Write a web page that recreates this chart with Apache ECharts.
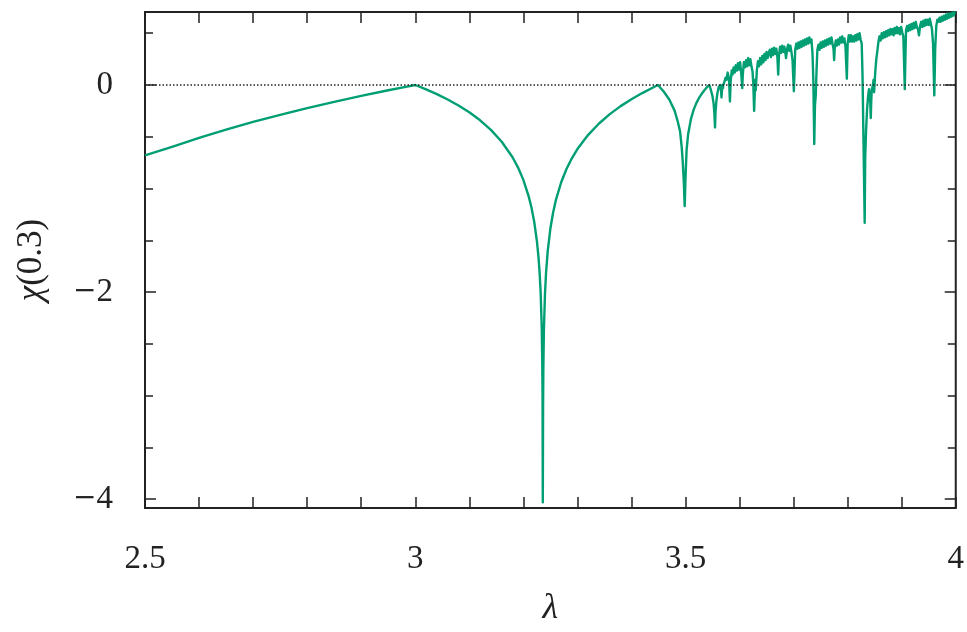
<!DOCTYPE html>
<html>
<head>
<meta charset="utf-8">
<script src="https://cdn.jsdelivr.net/npm/echarts@6/dist/echarts.min.js"></script>
<style>
html,body{margin:0;padding:0;background:#fff;}
#chart{width:967px;height:632px;}
</style>
</head>
<body>
<div id="chart"></div>
<script>
// Values.
// Periodic (non-chaotic) part: λ from 2.5 to the onset of chaos
var lambdaPeriodic = [
  2.50,2.55,2.60,2.65,2.70,2.75,2.80,2.85,2.90,2.95,2.98,3.00,
  3.01,3.02,3.04,3.06,3.08,3.10,3.12,3.14,3.16,3.18,3.19,3.20,3.21,3.215,3.22,3.225,3.228,3.23,3.232,3.234,3.235,3.2355,3.236,3.2365,3.237,3.238,3.24,3.242,3.245,3.25,3.255,3.26,3.27,3.28,3.29,3.30,3.32,3.34,3.36,3.38,3.40,3.42,3.44,3.449,
  3.452,3.46,3.47,3.48,3.486,3.49,3.493,3.495,3.497,3.4985,3.500,3.502,3.505,3.51,3.515,3.52,3.525,3.53,3.535,3.54,3.544,
  3.546,3.548,3.550,3.552,3.5535,3.5546,3.5555,3.557,3.559,3.5615,3.5635,3.5644,3.5658,3.5666,3.5675,3.5688,3.5694,3.5699
];
var chiPeriodic = [
  -0.68,-0.598,-0.511,-0.431,-0.357,-0.288,-0.223,-0.163,-0.105,-0.051,-0.02,0,
  -0.021,-0.042,-0.088,-0.140,-0.198,-0.264,-0.341,-0.433,-0.548,-0.698,-0.795,-0.916,-1.078,-1.183,-1.318,-1.504,-1.662,-1.804,-2.004,-2.342,-2.672,-2.99,-4.03,-3.12,-2.74,-2.376,-2.02,-1.814,-1.609,-1.386,-1.233,-1.115,-0.939,-0.809,-0.705,-0.619,-0.481,-0.372,-0.281,-0.204,-0.137,-0.078,-0.024,0,
  -0.015,-0.065,-0.14,-0.25,-0.36,-0.45,-0.60,-0.75,-0.95,-1.17,-0.90,-0.63,-0.47,-0.33,-0.24,-0.175,-0.125,-0.085,-0.05,-0.02,0,
  -0.03,-0.07,-0.11,-0.18,-0.28,-0.41,-0.27,-0.16,-0.08,-0.02,-0.005,0,-0.06,-0.12,-0.05,0,-0.03,0
];
// Chaotic part with its periodic windows
var lambdaChaos = [
  3.572,3.574,3.576,3.578,3.5805,3.5822,3.5835,3.5855,3.587,3.589,
  3.591,3.593,3.595,3.597,3.599,3.601,3.603,3.604,3.605,3.606,
  3.608,3.610,3.612,3.614,3.616,3.618,3.620,3.622,3.624,3.6255,
  3.627,3.628,3.629,3.630,3.632,3.634,3.636,3.638,3.640,3.642,
  3.644,3.646,3.648,3.650,3.652,3.654,3.656,3.658,3.660,3.662,
  3.664,3.666,3.668,3.670,3.6715,3.673,3.675,3.677,3.679,3.681,
  3.683,3.685,3.686,3.688,3.690,3.692,3.694,3.696,3.698,3.7005,
  3.7015,3.703,3.705,3.707,3.709,3.711,3.713,3.715,3.717,3.719,
  3.721,3.723,3.725,3.727,3.729,3.731,3.733,3.735,3.7365,3.7382,
  3.7395,3.741,3.7425,3.744,3.746,3.748,3.750,3.752,3.754,3.756,
  3.758,3.760,3.762,3.764,3.766,3.768,3.770,3.772,3.774,3.775,
  3.776,3.778,3.780,3.782,3.784,3.786,3.788,3.790,3.792,3.794,
  3.796,3.7985,3.800,3.802,3.804,3.806,3.808,3.810,3.812,3.814,
  3.816,3.818,3.820,3.822,3.824,3.826,3.8275,3.8295,3.8315,3.8325,
  3.834,3.836,3.838,3.8395,3.8415,3.8428,3.8437,3.8447,3.846,3.848,
  3.849,3.851,3.853,3.855,3.857,3.859,3.861,3.863,3.865,3.867,
  3.869,3.871,3.873,3.875,3.877,3.879,3.881,3.883,3.885,3.887,
  3.889,3.891,3.893,3.895,3.897,3.899,3.901,3.903,3.9045,3.9057,
  3.9068,3.908,3.910,3.912,3.914,3.916,3.918,3.920,3.922,3.924,
  3.926,3.928,3.930,3.932,3.934,3.936,3.938,3.940,3.942,3.944,
  3.946,3.948,3.950,3.952,3.954,3.956,3.958,3.9603,3.962,3.964,
  3.966,3.968,3.970,3.972,3.974,3.976,3.978,3.980,3.982,3.984,
  3.986,3.988,3.990,3.992,3.994,3.996,3.998,4.000
];
var chiChaos = [
  0.03,0.07,0.05,0.12,0.06,-0.16,0.03,0.14,0.10,0.17,
  0.12,0.19,0.14,0.21,0.15,0.22,0.12,0.05,-0.03,0.10,
  0.22,0.17,0.24,0.18,0.26,0.19,0.25,0.18,0.13,0.0,
  -0.25,-0.10,0.05,-0.05,0.14,0.23,0.18,0.26,0.20,0.28,
  0.22,0.30,0.24,0.32,0.26,0.31,0.34,0.27,0.35,0.29,
  0.36,0.30,0.35,0.27,0.10,0.29,0.37,0.31,0.38,0.32,
  0.37,0.30,0.26,0.35,0.39,0.33,0.38,0.32,0.24,-0.06,
  0.10,0.34,0.40,0.35,0.41,0.36,0.42,0.37,0.43,0.38,
  0.44,0.39,0.45,0.40,0.46,0.41,0.44,0.30,0.05,-0.57,
  -0.20,-0.10,0.15,0.34,0.39,0.34,0.41,0.36,0.42,0.37,
  0.43,0.38,0.44,0.39,0.45,0.40,0.46,0.40,0.34,0.24,
  0.35,0.43,0.38,0.44,0.39,0.46,0.41,0.47,0.41,0.45,
  0.37,0.06,0.40,0.48,0.42,0.48,0.42,0.47,0.42,0.48,
  0.43,0.49,0.44,0.50,0.44,0.40,0.10,-0.6,-1.33,-0.70,
  -0.45,-0.23,-0.10,-0.04,-0.12,-0.32,-0.15,-0.04,-0.02,0.05,
  -0.07,0.12,0.25,0.33,0.42,0.47,0.43,0.50,0.45,0.51,
  0.46,0.52,0.47,0.53,0.48,0.54,0.49,0.54,0.48,0.55,
  0.50,0.56,0.50,0.55,0.49,0.56,0.51,0.47,0.20,-0.04,
  0.25,0.53,0.57,0.52,0.58,0.53,0.59,0.54,0.60,0.55,
  0.61,0.56,0.54,0.48,0.57,0.61,0.56,0.62,0.57,0.63,
  0.58,0.63,0.58,0.64,0.59,0.54,0.40,-0.10,0.35,0.57,
  0.63,0.61,0.65,0.61,0.66,0.62,0.67,0.63,0.68,0.64,
  0.69,0.65,0.69,0.66,0.70,0.67,0.70,0.70
];
var xTickValues = [2.5,2.6,2.7,2.8,2.9,3.0,3.1,3.2,3.3,3.4,3.5,3.6,3.7,3.8,3.9,4.0];
var xLabelValues = [2.5,3,3.5,4];
var yMinorTicks = [-4,-3.5,-3,-2.5,-2,-1.5,-1,-0.5,0,0.5];
var yMajorTicks = [-4,-2,0];
var yLabelValues = [-4,-2,0];

var FONT = 'Liberation Serif';
var AXC = '#222';
var X_MIN = 2.5, X_MAX = 4, Y_MIN = -4.085, Y_MAX = 0.705;

var allLambda = lambdaPeriodic.concat(lambdaChaos);
var allChi = chiPeriodic.concat(chiChaos);
var seriesData = allLambda.map(function(l, i){ return [l, allChi[i]]; });

function xAxisDef(pos, withLabels){
  return {
    type: 'value', position: pos, min: X_MIN, max: X_MAX,
    axisLine: {show: false, onZero: false},
    splitLine: {show: false},
    axisTick: {show: true, inside: true, length: 11, customValues: xTickValues,
               lineStyle: {color: AXC, width: 1.5}},
    axisLabel: withLabels ? {show: true, customValues: xLabelValues, margin: 35,
               fontFamily: FONT, fontSize: 33, color: '#222',
               formatter: function(v){ return String(v); }} : {show: false},
    name: withLabels ? 'λ' : '',
    nameLocation: 'middle', nameGap: 83,
    nameTextStyle: {fontFamily: FONT, fontSize: 36, fontStyle: 'italic', color: '#222'}
  };
}
function yAxisDef(pos, ticks, len, withLabels){
  return {
    type: 'value', position: pos, min: Y_MIN, max: Y_MAX,
    axisLine: {show: false, onZero: false},
    splitLine: {show: false},
    axisTick: {show: true, inside: true, length: len, customValues: ticks,
               lineStyle: {color: AXC, width: 1.5}},
    axisLabel: withLabels ? {show: true, customValues: yLabelValues, margin: 32,
               fontFamily: FONT, fontSize: 33, color: '#222',
               formatter: function(v){ return v < 0 ? '{m|\u2212}' + Math.abs(v) : String(v); },
               rich: {m: {fontFamily: 'DejaVu Serif', fontSize: 28, color: '#222'}}} : {show: false},
    name: withLabels ? '{i|χ}(0.3)' : '',
    nameLocation: 'middle', nameGap: 96, nameRotate: 90,
    nameTextStyle: {fontFamily: FONT, fontSize: 35, color: '#222',
      rich: {i: {fontFamily: FONT, fontSize: 35, fontStyle: 'italic', color: '#222'}}}
  };
}

var chart = echarts.init(document.getElementById('chart'), null, {renderer: 'canvas'});
chart.setOption({
  animation: false,
  backgroundColor: '#fff',
  grid: {left: 145, right: 9, top: 12, bottom: 117, show: true,
         borderColor: AXC, borderWidth: 2, backgroundColor: 'transparent'},
  xAxis: [xAxisDef('bottom', true), xAxisDef('top', false)],
  yAxis: [
    yAxisDef('left', yMinorTicks, 8, true),
    yAxisDef('left', yMajorTicks, 11, false),
    yAxisDef('right', yMinorTicks, 8, false),
    yAxisDef('right', yMajorTicks, 11, false)
  ],
  series: [
    {
      type: 'line', xAxisIndex: 0, yAxisIndex: 0,
      data: seriesData, showSymbol: false, symbol: 'none',
      lineStyle: {color: '#009E73', width: 2.4, join: 'round'},
      clip: true, z: 2
    },
    {
      type: 'line', xAxisIndex: 0, yAxisIndex: 0,
      data: [[X_MIN, 0], [X_MAX, 0]], showSymbol: false, symbol: 'none',
      lineStyle: {color: '#222', width: 1.3, type: [1.5, 2]},
      z: 3
    }
  ]
});
</script>
</body>
</html>
